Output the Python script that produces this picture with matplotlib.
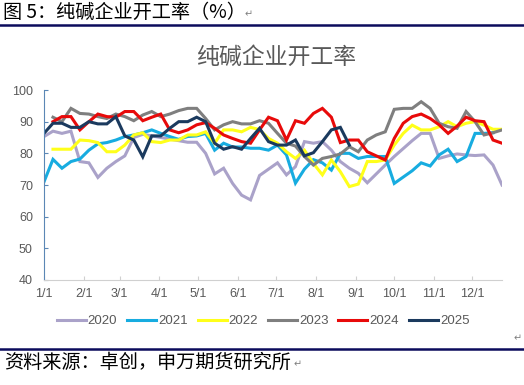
import numpy as np
import matplotlib
matplotlib.use("Agg")
import matplotlib.pyplot as plt
from matplotlib.lines import Line2D

nan = np.nan

# weekly points, one value per week from 1/1
y2020 = [85.3, 87, 86.3, 87, 77.4, 77, 72.4, 75.3, 77.4, 79.2, 85, 86, 85.5, 85, 84.5, 84, 83.5, 83.5,
         80, 73.5, 75.3, 70.5, 66.8, 65.3, 73, 75, 77, 73.2, 75.8, 83.7, 83.2, 83.7, 81, 77.4, 75.3,
         73.7, 70.7, 73.5, 76.3, 79, 81.5, 84, 86.3, 86.3, 78.4, 79.2, 79.8, 79.5, 79.3, 79.5, 76.3, 70]
y2021 = [71, 78.1, 75.3, 77.4, 78.2, 81, 83, 83.4, 84.2, 85.3, 85.8, 86.5, 87.4, 86.3, 85.3, 84.4, 85.3, 85.5,
         86.3, 81, 83.2, 82, 82, 81.6, 81.6, 81, 82.6, 79.5, 70.6, 75, 78, 77, 74.7, 80, 80,
         78.4, 79, 79, 79, 70.5, 72.5, 74.5, 77, 76, 79.5, 81.3, 77.4, 79, 86.3, 86.3, 86.5, nan]
y2022 = [nan, 81.3, 81.3, 81.3, 84.2, 84, 83.4, 80.5, 80.5, 82.6, 85.8, 86.5, 83.7, 83.4, 84.2, 84.2, 85.8, 85.8,
         86.8, 83.2, 87.4, 87.4, 86.8, 88.2, 87.5, 84.7, 83.2, 80.5, 78.4, 81, 76.8, 73.2, 77.9, 74.2, 69.5,
         70.3, 77.4, 77.4, 77.9, 82.6, 86.3, 88.9, 87.4, 87.4, 88.4, 90, 88.4, 89.5, 90, 88.9, 87.6, 87.6]
y2023 = [nan, 91.4, 90, 94.2, 92.6, 92.4, 91.6, 91, 92.4, 91.6, 90.3, 92.1, 93.2, 91.6, 92.4, 93.5, 94.2, 94.2,
         91, 87.4, 89, 90, 89.3, 89.3, 90.3, 89.5, 86.3, 83.2, 82.3, 79, 76.3, 78.4, 79, 79.8, 82.1,
         80.5, 84.2, 85.8, 86.8, 93.9, 94.2, 94.2, 96.3, 94.2, 89.5, 88.4, 87.9, 93.2, 90, 85.8, 86.5, 87.4]
y2024 = [nan, 90, 91.6, 91.6, 87.4, 90, 92.4, 91.6, 91.4, 93.2, 93.2, 90.3, 91.4, 92.4, 87.4, 86.5, 87.4, 89,
         89.7, 87.9, 85.8, 84.7, 83.7, 83.2, 87.4, 91.4, 90.3, 84.2, 90.3, 89.5, 92.6, 94.2, 91.4, 83.4, 84.2,
         84.2, 80.5, 79.2, 77.9, 84.7, 89.5, 91.6, 92.4, 91, 89, 86.3, 88.6, 91.4, 90.3, 90, 84.2, 83.2]
y2025 = [86.3, 89.5, 89.5, 88.2, 88.2, 90, 89.3, 89.3, 91.6, 85.5, 84.2, 78.9, 85.5, 85.5, 87.9, 90, 90, 91.4,
         90, 83.2, 81.3, 82.1, 81.3, 84.7, 87.9, 83.7, 82.6, 82.6, 84.2, 79.2, 80.2, 83.7, 87.4, 88.2, 82.6]

years = ["2020", "2021", "2022", "2023", "2024", "2025"]
series = [y2020, y2021, y2022, y2023, y2024, y2025]
colors = ["#AAA2C9", "#17ACE0", "#FFFF1A", "#7F7F7F", "#E80A0A", "#1B3A5E"]

month_days = [0, 31, 59, 90, 120, 151, 181, 212, 243, 273, 304, 334]
month_labels = [f"{m}/1" for m in range(1, 13)]

cjk = ["Noto Sans CJK SC", "DejaVu Sans"]
lat = ["Liberation Sans", "DejaVu Sans"]

fig = plt.figure(figsize=(5.24, 3.85), dpi=100)
ax = fig.add_axes([44 / 524, 1 - 280 / 385, 458 / 524, 190 / 385])

for name, vals, c in zip(years, series, colors):
    x = np.arange(len(vals)) * 7
    ax.plot(x, vals, color=c, lw=2.2, label=name, solid_joinstyle="miter")

ax.set_xlim(0, 357)
ax.set_ylim(40, 100)
ax.set_yticks(range(40, 101, 10))
ax.set_xticks(month_days)
ax.set_xticklabels(month_labels)
for s in ["top", "right"]:
    ax.spines[s].set_visible(False)
ax.spines["left"].set_color("#5B87B5")
ax.spines["bottom"].set_color("#D0D0D0")
ax.tick_params(axis="y", direction="in", length=3, color="#5B87B5", labelsize=9, labelcolor="#595959", pad=8)
ax.tick_params(axis="x", direction="in", length=3, color="#D0D0D0", labelsize=9, labelcolor="#595959", pad=6)
for lbl in ax.get_xticklabels() + ax.get_yticklabels():
    lbl.set_family(lat)

handles = [Line2D([], [], color=c, lw=2.2) for c in colors]
fig.legend(handles, years, loc="center", bbox_to_anchor=(0.502, 1 - 321 / 385), ncol=6, frameon=False,
           handlelength=2.2, handletextpad=0.15, columnspacing=0.75,
           prop={"family": lat, "size": 9.5}, labelcolor="#595959")

fig.text(276 / 524, 1 - 57 / 385, "纯碱企业开工率", family=cjk, fontsize=16.5, color="#595959",
         ha="center", va="center")

# document caption, rules and source line
fig.text(3 / 524, 1 - 12 / 385, "图 5：纯碱企业开工率（%）", family=cjk, fontsize=13.8, va="center", ha="left")
fig.text(245 / 524, 1 - 14 / 385, "↵", family=cjk, fontsize=7, color="#808080", va="center")
fig.add_artist(Line2D([0, 1], [1 - 25 / 385] * 2, color="#0B0B5C", lw=1.8))
fig.add_artist(Line2D([0, 1], [1 - 349 / 385] * 2, color="#0B0B5C", lw=1.8))
fig.text(514 / 524, 1 - 338 / 385, "↵", family=cjk, fontsize=7, color="#808080", va="center")
fig.text(4 / 524, 1 - 362 / 385, "资料来源：卓创，申万期货研究所", family=cjk, fontsize=13.8, va="center", ha="left")
fig.text(294 / 524, 1 - 364 / 385, "↵", family=cjk, fontsize=7, color="#808080", va="center")

fig.savefig("out.png", dpi=100)
